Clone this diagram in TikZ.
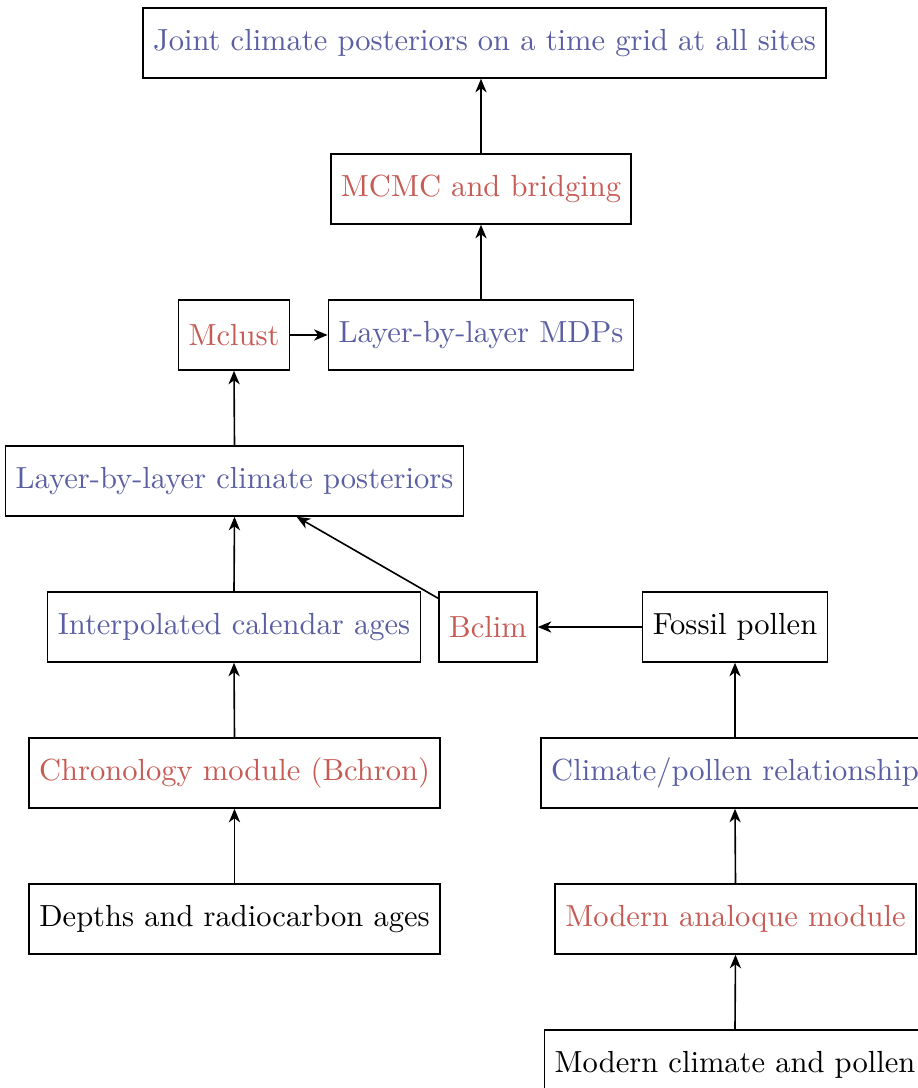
\documentclass[tikz,border=0pt]{standalone}
\usetikzlibrary{arrows.meta}
\definecolor{modblue}{HTML}{5A5EA2}
\definecolor{modred}{HTML}{C65B55}
\tikzset{
  every node/.style={font=\fontsize{10.35}{12.4}\selectfont},
  box/.style={draw, line width=0.55pt, minimum height=23.7pt, inner xsep=3.45pt},
  datum/.style={box, text=black},
  result/.style={box, text=modblue},
  module/.style={box, text=modred},
  flow/.style={-{Stealth[length=4.6pt, width=3.8pt, inset=1.4pt]}, line width=0.55pt},
}
\begin{document}
\begin{tikzpicture}[x=0.339pt, y=-0.339pt]
  \useasboundingbox (0,0) rectangle (918,1088);

  \node[result] (joint)  at (484.5,  43) {Joint climate posteriors on a time grid at all sites};
  \node[module] (mcmc)   at (481,   189) {MCMC and bridging};
  \node[module] (mclust) at (234,   335) {Mclust};
  \node[result] (mdps)   at (481,   335) {Layer-by-layer MDPs};
  \node[result] (llcp)   at (234.5, 481) {Layer-by-layer climate posteriors};
  \node[result] (interp) at (234,   627) {Interpolated calendar ages};
  \node[module] (bclim)  at (488,   627) {Bclim};
  \node[datum]  (fossil) at (735,   627) {Fossil pollen};
  \node[module] (chron)  at (234.5, 773) {Chronology module (Bchron)};
  \node[datum]  (depths) at (234.5, 919) {Depths and radiocarbon ages};
  \node[result] (climpol) at (735,  773) {Climate/pollen relationship};
  \node[module] (modan)  at (735.5, 919) {Modern analoque module};
  \node[datum]  (modcl)  at (735,  1065) {Modern climate and pollen};

  % upward chains
  \foreach \a/\b in {depths/chron, chron/interp, interp/llcp, llcp/mclust,
                     mdps/mcmc, modcl/modan, modan/climpol, climpol/fossil}
    \draw[flow] (\a.north) -- (\b.south);
  \draw[flow] (mcmc.north) -- (mcmc.north |- joint.south);
  \draw[flow] (mclust.east) -- (mdps.west);
  \draw[flow] (fossil.west) -- (bclim.east);
  \draw[flow] (bclim) -- (llcp);
\end{tikzpicture}
\end{document}
